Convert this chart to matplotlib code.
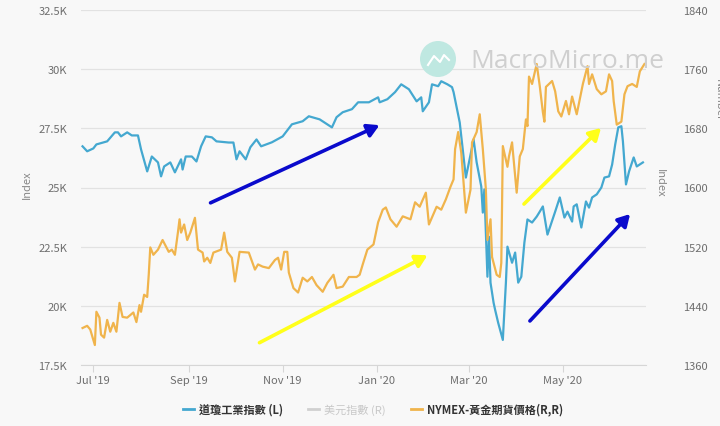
import pandas as pd
import matplotlib.pyplot as plt
import matplotlib.dates as mdates
from matplotlib.lines import Line2D
from matplotlib.patches import Circle, FancyArrowPatch

plt.rcParams['font.family'] = ['Noto Sans CJK TC', 'DejaVu Sans']

# Dow Jones Industrial Average (left axis)
dow_dates = [
    "2019-06-24", "2019-06-27", "2019-07-01", "2019-07-03", "2019-07-10", "2019-07-15",
    "2019-07-17", "2019-07-19", "2019-07-23", "2019-07-26", "2019-07-30", "2019-08-01",
    "2019-08-05", "2019-08-08", "2019-08-12", "2019-08-14", "2019-08-16", "2019-08-20",
    "2019-08-23", "2019-08-27", "2019-08-28", "2019-08-30", "2019-09-03", "2019-09-06",
    "2019-09-09", "2019-09-12", "2019-09-16", "2019-09-19", "2019-09-27", "2019-09-30",
    "2019-10-02", "2019-10-04", "2019-10-08", "2019-10-11", "2019-10-15", "2019-10-18",
    "2019-10-25", "2019-11-01", "2019-11-07", "2019-11-14", "2019-11-18", "2019-11-25",
    "2019-12-03", "2019-12-06", "2019-12-10", "2019-12-16", "2019-12-20", "2019-12-27",
    "2020-01-02", "2020-01-03", "2020-01-08", "2020-01-13", "2020-01-17", "2020-01-22",
    "2020-01-27", "2020-01-30", "2020-01-31", "2020-02-04", "2020-02-06", "2020-02-10",
    "2020-02-12", "2020-02-16", "2020-02-19", "2020-02-20", "2020-02-24", "2020-02-28",
    "2020-03-03", "2020-03-04", "2020-03-06", "2020-03-09", "2020-03-10", "2020-03-11",
    "2020-03-13", "2020-03-14", "2020-03-15", "2020-03-17", "2020-03-18", "2020-03-20",
    "2020-03-23", "2020-03-25", "2020-03-26", "2020-03-29", "2020-03-31", "2020-04-02",
    "2020-04-04", "2020-04-06", "2020-04-08", "2020-04-11", "2020-04-14", "2020-04-16",
    "2020-04-18", "2020-04-21", "2020-04-26", "2020-04-29", "2020-05-02", "2020-05-04",
    "2020-05-07", "2020-05-08", "2020-05-10", "2020-05-13", "2020-05-16", "2020-05-18",
    "2020-05-20", "2020-05-23", "2020-05-26", "2020-05-28", "2020-05-31", "2020-06-02",
    "2020-06-04", "2020-06-06", "2020-06-08", "2020-06-09", "2020-06-11", "2020-06-13",
    "2020-06-16", "2020-06-18", "2020-06-22",
]
dow_values = [
    26740, 26530, 26650, 26820, 26950, 27330,
    27330, 27160, 27330, 27200, 27200, 26610,
    25680, 26310, 26060, 25470, 25890, 26060,
    25640, 26190, 25760, 26310, 26310, 26100,
    26740, 27160, 27120, 26950, 26900, 26900,
    26190, 26530, 26190, 26700, 27030, 26740,
    26910, 27160, 27670, 27800, 28010, 27880,
    27540, 27970, 28180, 28310, 28600, 28600,
    28810, 28600, 28730, 29030, 29360, 29150,
    28640, 28810, 28220, 28600, 29360, 29280,
    29490, 29360, 29240, 29030, 27750, 25420,
    26700, 27030, 26060, 25040, 23940, 24920,
    21230, 22920, 20980, 20130, 19830, 19280,
    18560, 20980, 22500, 21820, 22250, 20980,
    21230, 22670, 23650, 23520, 23770, 23980,
    24200, 23010, 23980, 24580, 23730, 23980,
    23560, 24200, 24290, 23310, 24410, 24150,
    24580, 24710, 25000, 25420, 25470, 25970,
    26820, 27540, 27590, 26950, 25130, 25680,
    26270, 25890, 26060,
]

# NYMEX gold futures (right axis)
gold_dates = [
    "2019-06-24", "2019-06-27", "2019-06-29", "2019-07-02", "2019-07-03", "2019-07-05",
    "2019-07-06", "2019-07-08", "2019-07-10", "2019-07-12", "2019-07-14", "2019-07-16",
    "2019-07-18", "2019-07-20", "2019-07-23", "2019-07-27", "2019-07-29", "2019-07-31",
    "2019-08-01", "2019-08-03", "2019-08-05", "2019-08-06", "2019-08-07", "2019-08-09",
    "2019-08-12", "2019-08-15", "2019-08-19", "2019-08-21", "2019-08-23", "2019-08-25",
    "2019-08-26", "2019-08-27", "2019-08-29", "2019-08-31", "2019-09-02", "2019-09-05",
    "2019-09-07", "2019-09-10", "2019-09-11", "2019-09-13", "2019-09-15", "2019-09-17",
    "2019-09-22", "2019-09-24", "2019-09-26", "2019-09-29", "2019-10-01", "2019-10-04",
    "2019-10-10", "2019-10-14", "2019-10-16", "2019-10-19", "2019-10-23", "2019-10-27",
    "2019-10-29", "2019-10-31", "2019-11-02", "2019-11-04", "2019-11-05", "2019-11-08",
    "2019-11-11", "2019-11-14", "2019-11-17", "2019-11-20", "2019-11-23", "2019-11-27",
    "2019-11-30", "2019-12-04", "2019-12-06", "2019-12-10", "2019-12-14", "2019-12-19",
    "2019-12-21", "2019-12-23", "2019-12-26", "2019-12-30", "2020-01-02", "2020-01-05",
    "2020-01-07", "2020-01-10", "2020-01-14", "2020-01-18", "2020-01-23", "2020-01-26",
    "2020-01-29", "2020-02-02", "2020-02-04", "2020-02-09", "2020-02-12", "2020-02-15",
    "2020-02-18", "2020-02-20", "2020-02-21", "2020-02-23", "2020-02-25", "2020-02-28",
    "2020-03-02", "2020-03-03", "2020-03-06", "2020-03-08", "2020-03-10", "2020-03-12",
    "2020-03-13", "2020-03-15", "2020-03-16", "2020-03-19", "2020-03-21", "2020-03-22",
    "2020-03-23", "2020-03-26", "2020-03-27", "2020-03-29", "2020-04-01", "2020-04-03",
    "2020-04-05", "2020-04-07", "2020-04-08", "2020-04-09", "2020-04-11", "2020-04-14",
    "2020-04-16", "2020-04-18", "2020-04-19", "2020-04-20", "2020-04-22", "2020-04-24",
    "2020-04-26", "2020-04-28", "2020-04-30", "2020-05-03", "2020-05-05", "2020-05-07",
    "2020-05-10", "2020-05-14", "2020-05-17", "2020-05-18", "2020-05-20", "2020-05-23",
    "2020-05-26", "2020-05-29", "2020-05-31", "2020-06-02", "2020-06-03", "2020-06-05",
    "2020-06-08", "2020-06-10", "2020-06-12", "2020-06-15", "2020-06-18", "2020-06-20",
    "2020-06-23",
]
gold_values = [
    1410, 1413, 1408, 1387, 1432, 1424,
    1401, 1397, 1421, 1405, 1417, 1405,
    1444, 1425, 1424, 1431, 1418, 1441,
    1432, 1455, 1452, 1482, 1519, 1509,
    1516, 1529, 1513, 1516, 1509, 1540,
    1557, 1539, 1550, 1529, 1539, 1559,
    1516, 1512, 1500, 1505, 1498, 1512,
    1516, 1539, 1513, 1505, 1473, 1513,
    1512, 1489, 1496, 1493, 1491, 1502,
    1505, 1489, 1513, 1513, 1485, 1464,
    1458, 1478, 1473, 1479, 1468, 1459,
    1471, 1482, 1464, 1466, 1479, 1479,
    1482, 1496, 1516, 1523, 1553, 1570,
    1573, 1557, 1547, 1561, 1557, 1580,
    1574, 1593, 1550, 1574, 1570, 1584,
    1601, 1611, 1652, 1675, 1647, 1566,
    1597, 1661, 1675, 1699, 1652, 1597,
    1529, 1557, 1506, 1482, 1479, 1498,
    1656, 1628, 1642, 1661, 1593, 1642,
    1652, 1692, 1683, 1750, 1740, 1767,
    1737, 1702, 1689, 1736, 1740, 1744,
    1730, 1703, 1696, 1717, 1699, 1723,
    1699, 1740, 1764, 1740, 1753, 1733,
    1726, 1730, 1753, 1744, 1717, 1685,
    1689, 1726, 1737, 1740, 1736, 1757,
    1767,
]

left_ticks = [17500, 20000, 22500, 25000, 27500, 30000, 32500]
left_labels = ["17.5K", "20K", "22.5K", "25K", "27.5K", "30K", "32.5K"]
right_ticks = [1360, 1440, 1520, 1600, 1680, 1760, 1840]
legend_labels = ["道瓊工業指數 (L)", "美元指數 (R)", "NYMEX-黃金期貨價格(R,R)"]

dow_color = "#44a8d0"
gold_color = "#f0b44c"
bg = "#f8f8f8"
tick_grey = "#6e6e6e"

fig = plt.figure(figsize=(7.2, 4.27), dpi=100, facecolor=bg)
ax = fig.add_axes([81 / 720, 1 - 366 / 427, 565 / 720, 355 / 427])
ax.set_facecolor(bg)
ax2 = ax.twinx()

dow_x = pd.to_datetime(dow_dates)
gold_x = pd.to_datetime(gold_dates)

ax.plot(dow_x, dow_values, color=dow_color, lw=1.6, zorder=3)
ax2.plot(gold_x, gold_values, color=gold_color, lw=1.6, zorder=3)

ax.set_xlim(pd.Timestamp("2019-06-23"), pd.Timestamp("2020-06-24"))
ax.set_ylim(17500, 32500)
ax2.set_ylim(1360, 1840)

ax.set_yticks(left_ticks)
ax.set_yticklabels(left_labels)
ax2.set_yticks(right_ticks)
ax.grid(axis='y', color='#e2e2e2', lw=0.9)
ax.set_axisbelow(True)

ax.xaxis.set_major_locator(mdates.MonthLocator(bymonth=[1, 3, 5, 7, 9, 11]))
ax.xaxis.set_major_formatter(mdates.DateFormatter("%b '%y"))

for a in (ax, ax2):
    for s in a.spines.values():
        s.set_visible(False)
ax.spines['bottom'].set_visible(True)
ax.spines['bottom'].set_color('#d6d6d6')

ax.tick_params(axis='y', length=0, pad=10, labelsize=8, labelcolor=tick_grey)
ax2.tick_params(axis='y', length=0, pad=27, labelsize=8, labelcolor=tick_grey)
ax.tick_params(axis='x', length=5, color='#d6d6d6', pad=2, labelsize=8, labelcolor=tick_grey)

# axis titles
fig.text(27 / 720, 1 - 185 / 427, "Index", rotation=90, ha='center', va='center',
         fontsize=8, color='#888888')
fig.text(660 / 720, 1 - 183 / 427, "Index", rotation=-90, ha='center', va='center',
         fontsize=8, color='#888888')
fig.text(714 / 720, 1 - 100 / 427, "Number", rotation=-90, ha='left', va='center',
         fontsize=8, color='#888888')

# watermark
fig.text(470 / 720, 1 - 62 / 427, "MacroMicro.me", ha='left', va='center',
         fontsize=19, color='#cfcfcf', family=['Open Sans', 'DejaVu Sans'])
fig.patches.append(Circle((4.38, 4.27 - 0.60), 0.18, transform=fig.dpi_scale_trans,
                          facecolor='#bfe8e1', edgecolor='none', zorder=0))
fig.add_artist(Line2D([428 / 720, 434 / 720, 440 / 720, 444 / 720, 449 / 720],
                      [1 - 66 / 427, 1 - 57 / 427, 1 - 63 / 427, 1 - 56 / 427, 1 - 61 / 427],
                      color='white', lw=1.5))

# hand-drawn trend arrows
arrows = [
    ((208, 205), (382, 125), '#0a0acc'),
    ((257, 345), (430, 255), '#ffff1a'),
    ((522, 207), (603, 127), '#ffff1a'),
    ((528, 324), (632, 213), '#0a0acc'),
]
for (x0, y0), (x1, y1), c in arrows:
    fig.add_artist(FancyArrowPatch(
        (x0 / 720, 1 - y0 / 427), (x1 / 720, 1 - y1 / 427), transform=fig.transFigure,
        arrowstyle='-|>,head_length=7,head_width=4', color=c, lw=2.6, mutation_scale=1))

# legend
handles = [Line2D([], [], color=dow_color, lw=2),
           Line2D([], [], color='#d0d0d0', lw=2),
           Line2D([], [], color=gold_color, lw=2)]
leg = fig.legend(handles, legend_labels, loc='center', bbox_to_anchor=(373 / 720, 1 - 410 / 427),
                 ncol=3, frameon=False, handlelength=1.0, columnspacing=2.2, handletextpad=0.5,
                 prop={'size': 8, 'weight': 'bold'})
for txt, col in zip(leg.get_texts(), ['#333333', '#c8c8c8', '#333333']):
    txt.set_color(col)
leg.get_texts()[1].set_fontweight('normal')

fig.savefig("out.png", dpi=100, facecolor=bg)
